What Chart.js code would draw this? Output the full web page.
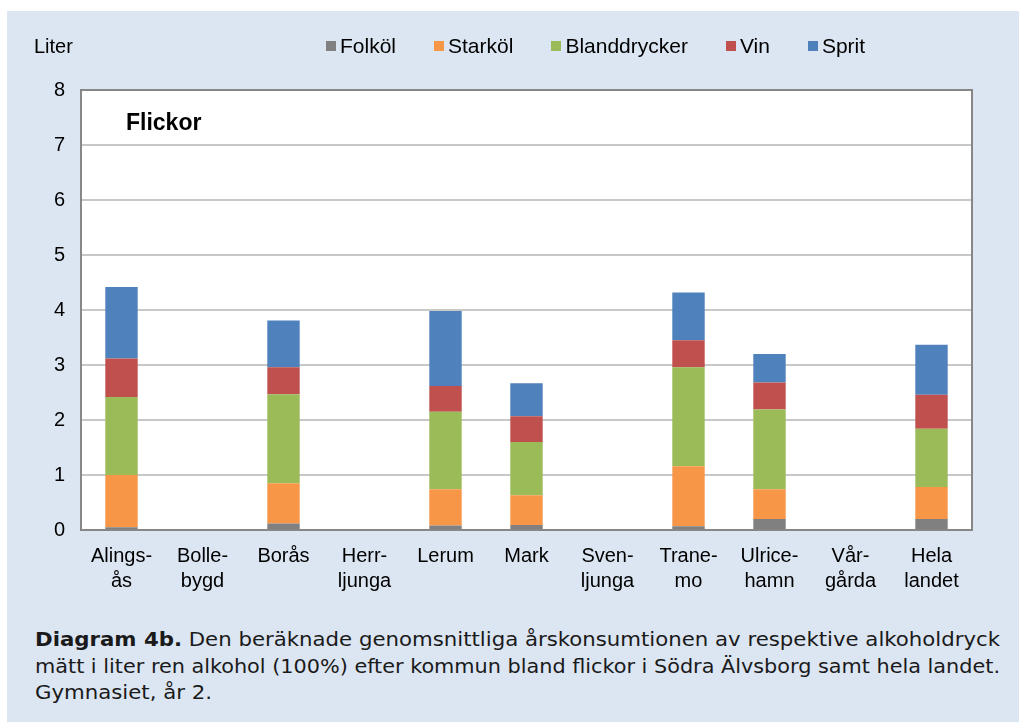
<!DOCTYPE html>
<html lang="sv">
<head>
<meta charset="utf-8">
<title>Diagram 4b</title>
<script src="https://cdn.jsdelivr.net/npm/chart.js@4.4.0/dist/chart.umd.min.js"></script>
<style>
  html, body { margin: 0; padding: 0; background: #fff; overflow: hidden; }
  #frame {
    position: absolute; left: 7px; top: 11px; width: 1012px; height: 711px;
    background: #dce6f2; font-family: "Liberation Sans", Arial, sans-serif;
  }
  #chartBox { position: absolute; left: 0; top: 0; width: 1012px; height: 600px; }
  #unit { position: absolute; left: 27px; top: 24px; font-size: 20px; color: #000; }
  #legend {
    position: absolute; left: 319px; top: 23px; display: flex; gap: 38px;
    font-size: 21px; color: #000; white-space: nowrap;
  }
  #legend .item { display: flex; align-items: center; }
  #legend .box { width: 10px; height: 10px; margin-right: 4px; }
  #panelLabel {
    position: absolute; left: 119px; top: 98px; font-size: 23px; font-weight: bold; color: #000;
  }
  #caption {
    position: absolute; left: 28px; top: 616px; width: 965px;
    font-family: "DejaVu Sans Condensed", "DejaVu Sans", sans-serif;
    font-size: 19.5px; line-height: 26.5px; color: #1a1a1a;
  }
  #caption .line { display: block; }
  #caption .line span { display: inline-block; white-space: nowrap; transform-origin: left top; }
</style>
</head>
<body>
<div id="frame">
  <div id="chartBox"><canvas id="chart" width="1012" height="600"></canvas></div>
  <div id="unit">Liter</div>
  <div id="legend"></div>
  <div id="panelLabel">Flickor</div>
  <div id="caption">
    <div class="line"><span data-fit="1"><b>Diagram 4b.</b> Den beräknade genomsnittliga årskonsumtionen av respektive alkoholdryck</span></div>
    <div class="line"><span data-fit="1">mätt i liter ren alkohol (100%) efter kommun bland flickor i Södra Älvsborg samt hela landet.</span></div>
    <div class="line"><span>Gymnasiet, år 2.</span></div>
  </div>
</div>
<script>
// categories (two-line labels as in the original)
const kommuner = [
  ['Alings-', 'ås'], ['Bolle-', 'bygd'], ['Borås'], ['Herr-', 'ljunga'], ['Lerum'],
  ['Mark'], ['Sven-', 'ljunga'], ['Trane-', 'mo'], ['Ulrice-', 'hamn'], ['Vår-', 'gårda'], ['Hela', 'landet']
];

// liter ren alkohol per dryck
const folkol   = [0.05, 0, 0.12, 0, 0.08, 0.09, 0, 0.07, 0.20, 0, 0.20];
const starkol  = [0.95, 0, 0.73, 0, 0.66, 0.54, 0, 1.09, 0.54, 0, 0.58];
const bland    = [1.42, 0, 1.62, 0, 1.41, 0.97, 0, 1.80, 1.45, 0, 1.06];
const vin      = [0.70, 0, 0.49, 0, 0.47, 0.47, 0, 0.49, 0.49, 0, 0.62];
const sprit    = [1.30, 0, 0.85, 0, 1.36, 0.60, 0, 0.87, 0.52, 0, 0.91];

const yTicks = [0, 1, 2, 3, 4, 5, 6, 7, 8];

// stretch caption lines to the full text width, like the original
const capSpans = document.querySelectorAll('#caption .line span');
let capScale = 1;
capSpans.forEach(s => {
  if (s.dataset.fit) {
    const k = 965 / s.getBoundingClientRect().width;
    s.style.transform = `scaleX(${k})`;
    if (capScale === 1) capScale = k;
  } else {
    s.style.transform = `scaleX(${capScale})`;
  }
});

// white plot area with grey frame
const plotFrame = {
  id: 'plotFrame',
  beforeDraw(chart) {
    const { ctx, chartArea: a } = chart;
    ctx.save();
    ctx.fillStyle = '#ffffff';
    ctx.fillRect(a.left, a.top, a.right - a.left, a.bottom - a.top);
    ctx.restore();
  },
  afterDraw(chart) {
    const { ctx, chartArea: a } = chart;
    ctx.save();
    ctx.strokeStyle = '#878787';
    ctx.lineWidth = 2;
    ctx.strokeRect(a.left, a.top, a.right - a.left, a.bottom - a.top);
    ctx.restore();
  }
};

// legend built as HTML from the chart's own legend items
const htmlLegend = {
  id: 'htmlLegend',
  afterUpdate(chart) {
    const el = document.getElementById('legend');
    el.innerHTML = '';
    const items = chart.options.plugins.legend.labels.generateLabels(chart);
    items.forEach(item => {
      const div = document.createElement('div');
      div.className = 'item';
      const box = document.createElement('span');
      box.className = 'box';
      box.style.background = item.fillStyle;
      const txt = document.createElement('span');
      txt.textContent = item.text;
      div.appendChild(box);
      div.appendChild(txt);
      el.appendChild(div);
    });
  }
};

const mk = (label, data, color) => ({
  label, data, backgroundColor: color, borderWidth: 0,
  barPercentage: 0.4, categoryPercentage: 1.0
});

new Chart(document.getElementById('chart'), {
  type: 'bar',
  data: {
    labels: kommuner,
    datasets: [
      mk('Folköl', folkol, '#808080'),
      mk('Starköl', starkol, '#f79646'),
      mk('Blanddrycker', bland, '#9bbb59'),
      mk('Vin', vin, '#c0504d'),
      mk('Sprit', sprit, '#4f81bd')
    ]
  },
  options: {
    responsive: false,
    animation: false,
    layout: { padding: { top: 79, right: 47, bottom: 0, left: 0 } },
    plugins: {
      legend: { display: false },
      tooltip: { enabled: false }
    },
    scales: {
      x: {
        stacked: true,
        grid: { display: false, drawTicks: false },
        border: { display: false },
        ticks: {
          color: '#000', padding: 14, maxRotation: 0, autoSkip: false,
          font: { family: 'Liberation Sans', size: 20, lineHeight: 1.25 }
        },
        afterFit(scale) { scale.height = 81; }
      },
      y: {
        stacked: true,
        min: 0, max: 8,
        afterBuildTicks(scale) { scale.ticks = yTicks.map(v => ({ value: v })); },
        grid: { color: '#c8c8c8', lineWidth: 2, drawTicks: false },
        border: { display: false },
        ticks: {
          color: '#000', padding: 16,
          font: { family: 'Liberation Sans', size: 20 }
        },
        afterFit(scale) { scale.width = 74; }
      }
    }
  },
  plugins: [plotFrame, htmlLegend]
});
</script>
</body>
</html>
